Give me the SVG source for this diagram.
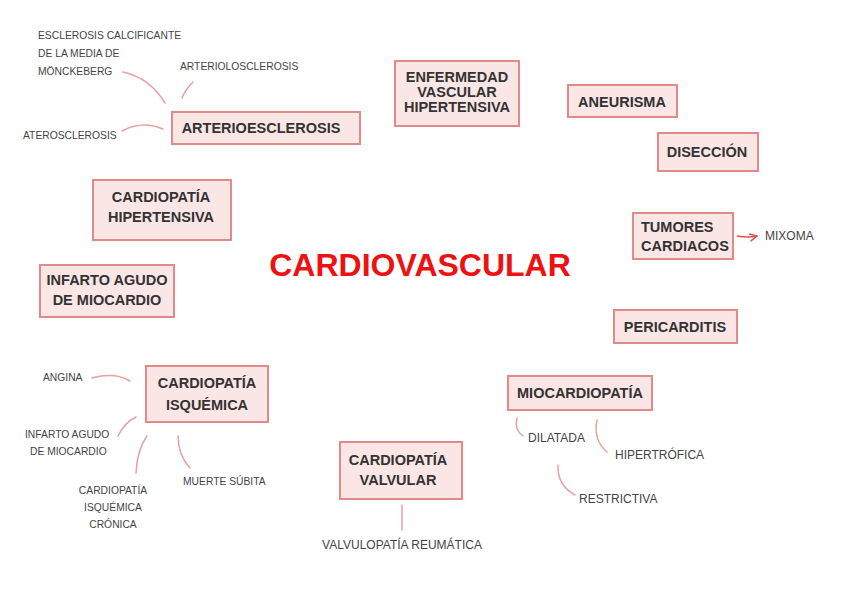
<svg xmlns="http://www.w3.org/2000/svg" width="848" height="600" viewBox="0 0 848 600">
<defs>
<style>
.box{fill:#fbe6e6;stroke:#e08a8a;stroke-width:2}
.nt{font-family:"Liberation Sans",Arial,sans-serif;font-weight:bold;font-size:14.5px;fill:#333;text-anchor:middle}
.st{font-family:"Liberation Sans",Arial,sans-serif;font-size:10.3px;fill:#444}
.sl{font-family:"Liberation Sans",Arial,sans-serif;font-size:12px;fill:#444}
.c{fill:none;stroke:#e8a0a0;stroke-width:1.5;stroke-linecap:round}
</style>
<marker id="ah" viewBox="0 0 10 10" refX="9" refY="5" markerWidth="7" markerHeight="7" orient="auto"><path d="M1,1 L9,5 L1,9" fill="none" stroke="#e05050" stroke-width="1.6"/></marker>
</defs>
<rect width="848" height="600" fill="#fff"/>
<text x="420" y="276" font-family="Liberation Sans,Arial,sans-serif" font-weight="bold" font-size="32" fill="#ee1111" text-anchor="middle">CARDIOVASCULAR</text>
<g id="connectors">
<path class="c" d="M123,72 Q150,78 165,103"/>
<path class="c" d="M193,82 Q185,90 182,98"/>
<path class="c" d="M122,131 Q142,120 163,129"/>
<path class="c" d="M92,378 Q115,372 130,381"/>
<path class="c" d="M118,436 Q124,423 136,417"/>
<path class="c" d="M147,436 Q137,450 136,473"/>
<path class="c" d="M178,436 Q178,455 190,468"/>
<path class="c" d="M402,505 L402,530"/>
<path class="c" d="M517,418 Q514,430 523,436"/>
<path class="c" d="M597,420 Q593,440 607,452"/>
<path class="c" d="M558,465 Q557,485 575,495"/>
<path d="M737,236 Q748,238 757,236" fill="none" stroke="#e05050" stroke-width="1.3" marker-end="url(#ah)"/>
</g>
<g id="arterioesclerosis"><rect class="box" x="172" y="112" width="188" height="32"/><text class="nt" x="261" y="133">ARTERIOESCLEROSIS</text></g>
<g id="enfermedad"><rect class="box" x="395" y="61" width="124" height="65"/><text class="nt" x="457" y="82" font-size="13">ENFERMEDAD</text><text class="nt" x="457" y="97" font-size="13">VASCULAR</text><text class="nt" x="457" y="112" font-size="13">HIPERTENSIVA</text></g>
<g id="aneurisma"><rect class="box" x="568" y="85" width="109" height="32"/><text class="nt" x="622" y="107">ANEURISMA</text></g>
<g id="diseccion"><rect class="box" x="658" y="133" width="100" height="38"/><text class="nt" x="707" y="157">DISECCIÓN</text></g>
<g id="tumores"><rect class="box" x="633" y="213" width="100" height="46"/><text class="nt" x="641" y="232" style="text-anchor:start">TUMORES</text><text class="nt" x="641" y="251" style="text-anchor:start">CARDIACOS</text></g>
<g id="mixoma"><text class="sl" x="765" y="240">MIXOMA</text></g>
<g id="pericarditis"><rect class="box" x="614" y="310" width="123" height="33"/><text class="nt" x="675" y="332">PERICARDITIS</text></g>
<g id="hipertensiva"><rect class="box" x="93" y="180" width="138" height="60"/><text class="nt" x="161" y="202">CARDIOPATÍA</text><text class="nt" x="161" y="222">HIPERTENSIVA</text></g>
<g id="infarto"><rect class="box" x="40" y="265" width="134" height="52"/><text class="nt" x="107" y="285">INFARTO AGUDO</text><text class="nt" x="107" y="305">DE MIOCARDIO</text></g>
<g id="isquemica"><rect class="box" x="146" y="366" width="122" height="56"/><text class="nt" x="207" y="388">CARDIOPATÍA</text><text class="nt" x="207" y="410">ISQUÉMICA</text></g>
<g id="valvular"><rect class="box" x="340" y="442" width="122" height="57"/><text class="nt" x="398" y="465">CARDIOPATÍA</text><text class="nt" x="398" y="485">VALVULAR</text></g>
<g id="miocardiopatia"><rect class="box" x="508" y="376" width="144" height="34"/><text class="nt" x="580" y="398">MIOCARDIOPATÍA</text></g>
<g id="labels">
<text class="st" x="38" y="39">ESCLEROSIS CALCIFICANTE</text>
<text class="st" x="38" y="57">DE LA MEDIA DE</text>
<text class="st" x="38" y="75">MÖNCKEBERG</text>
<text class="st" x="180" y="70">ARTERIOLOSCLEROSIS</text>
<text class="st" x="23" y="139">ATEROSCLEROSIS</text>
<text class="st" x="43" y="381">ANGINA</text>
<text class="st" x="25" y="438">INFARTO AGUDO</text>
<text class="st" x="30" y="455">DE MIOCARDIO</text>
<text class="st" x="113" y="494" text-anchor="middle">CARDIOPATÍA</text>
<text class="st" x="113" y="511" text-anchor="middle">ISQUÉMICA</text>
<text class="st" x="113" y="528" text-anchor="middle">CRÓNICA</text>
<text class="st" x="183" y="485">MUERTE SÚBITA</text>
<text class="sl" x="402" y="549" text-anchor="middle">VALVULOPATÍA REUMÁTICA</text>
<text class="sl" x="528" y="442">DILATADA</text>
<text class="sl" x="615" y="459">HIPERTRÓFICA</text>
<text class="sl" x="579" y="503">RESTRICTIVA</text>
</g>
</svg>
